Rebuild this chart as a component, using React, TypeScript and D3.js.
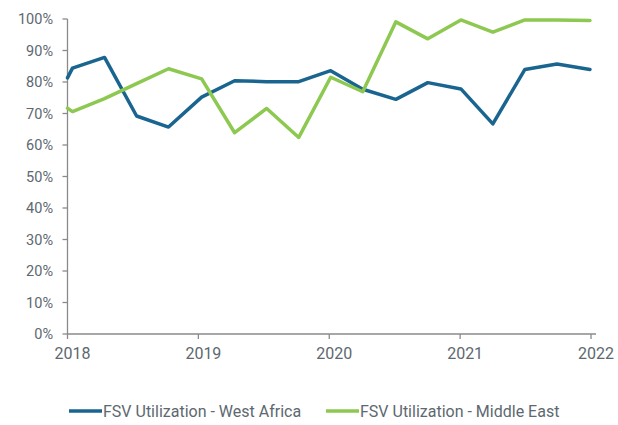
import React from "react";
import * as d3 from "d3";

const periods = [2018.0, 2018.038, 2018.283, 2018.528, 2018.772, 2019.025, 2019.277, 2019.522, 2019.767, 2020.011, 2020.256, 2020.509, 2020.753, 2021.006, 2021.25, 2021.495, 2021.74, 2021.992];
const westAfrica = [81.3, 84.4, 87.8, 69.2, 65.7, 75.2, 80.4, 80.1, 80.1, 83.6, 77.7, 74.5, 79.8, 77.8, 66.7, 84.0, 85.7, 84.0];
const middleEast = [71.7, 70.6, 74.7, 79.5, 84.2, 81.0, 63.9, 71.6, 62.4, 81.5, 76.9, 99.1, 93.7, 99.7, 95.8, 99.7, 99.7, 99.5];
const yearTicks = [2018, 2019, 2020, 2021, 2022];
const pctTicks = [0, 10, 20, 30, 40, 50, 60, 70, 80, 90, 100];
const seriesNames = ["FSV Utilization - West Africa", "FSV Utilization - Middle East"];

const BLUE = "#1a6590";
const GREEN = "#8dc850";
const TEXT = "#5d6870";
const AXIS = "#8a8a8a";
const FONT = "Roboto, 'Noto Sans', sans-serif";

export default function App() {
  const W = 618, H = 425;
  const x = d3.scaleLinear().domain([2018, 2022]).range([67.5, 591]);
  const y = d3.scaleLinear().domain([0, 100]).range([334, 19]);
  const line = d3.line<number>().x((_, i) => x(periods[i])).y((d) => y(d));
  const series = [
    { name: seriesNames[0], values: westAfrica, color: BLUE },
    { name: seriesNames[1], values: middleEast, color: GREEN },
  ];
  const legendX = [69, 326];
  return (
    <svg width={W} height={H} style={{ position: "absolute", left: 0, top: 0, background: "#fff" }} fontFamily={FONT}>
      {/* y axis */}
      <line x1={x(2018)} x2={x(2018)} y1={y(100)} y2={y(0)} stroke={AXIS} strokeWidth={1.3} />
      {pctTicks.map((t) => (
        <g key={t}>
          <line x1={x(2018) - 5} x2={x(2018)} y1={y(t)} y2={y(t)} stroke={AXIS} strokeWidth={1.3} />
          <text x={53} y={y(t)} dy="0.35em" textAnchor="end" fontSize={14.5} fill={TEXT}>{t}%</text>
        </g>
      ))}
      {/* x axis */}
      <line x1={x(2018)} x2={596} y1={y(0)} y2={y(0)} stroke={AXIS} strokeWidth={1.3} />
      {yearTicks.map((t) => (
        <g key={t}>
          <line x1={x(t)} x2={x(t)} y1={y(0)} y2={y(0) + 5} stroke={AXIS} strokeWidth={1.3} />
          <text x={x(t) + 5} y={353} dy="0.35em" textAnchor="middle" fontSize={16} fill={TEXT}>{t}</text>
        </g>
      ))}
      {series.map((s) => (
        <path key={s.name} d={line(s.values) || ""} fill="none" stroke={s.color} strokeWidth={3.5} strokeLinejoin="round" strokeLinecap="round" />
      ))}
      {series.map((s, i) => (
        <g key={s.name + "-leg"} transform={`translate(${legendX[i]},411)`}>
          <line x1={0} x2={33} y1={0} y2={0} stroke={s.color} strokeWidth={3.5} />
          <text x={34} y={0} dy="0.35em" fontSize={16} fill={TEXT}>{s.name}</text>
        </g>
      ))}
    </svg>
  );
}
